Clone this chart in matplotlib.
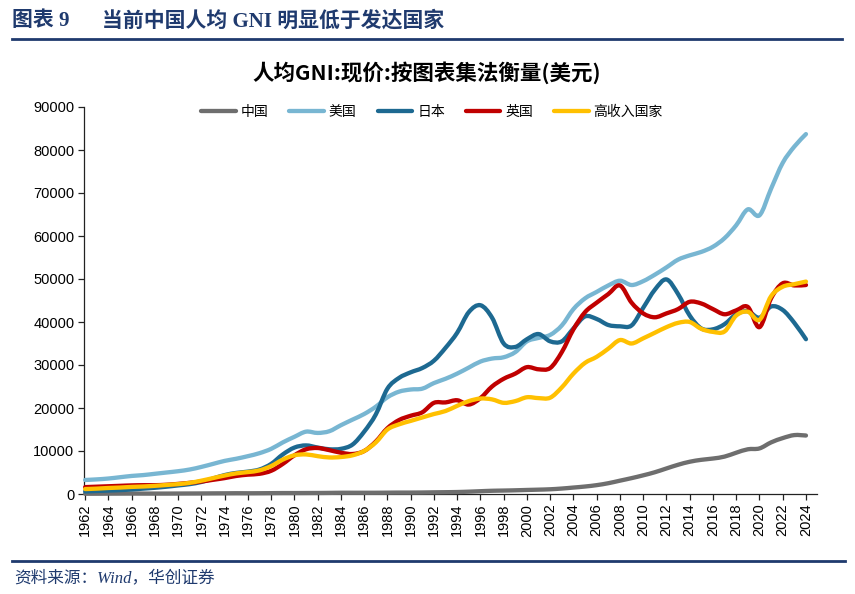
import matplotlib
matplotlib.use('Agg')
import matplotlib.pyplot as plt
import numpy as np
from matplotlib.path import Path
from matplotlib.patches import PathPatch
from matplotlib.lines import Line2D

years = list(range(1962, 2025))

china = [70, 70, 90, 100, 110, 100, 100, 100, 110, 120,
         130, 150, 160, 180, 170, 180, 200, 220, 220, 230,
         240, 260, 290, 290, 290, 290, 310, 330, 330, 350,
         390, 420, 460, 540, 650, 750, 800, 860, 940, 1010,
         1100, 1270, 1500, 1740, 2060, 2510, 3100, 3690, 4340, 5060,
         5940, 6800, 7500, 7950, 8250, 8700, 9600, 10400, 10600, 12000,
         13000, 13700, 13600]

usa = [3260, 3400, 3600, 3900, 4200, 4400, 4700, 5000, 5300, 5700,
       6300, 7000, 7700, 8200, 8800, 9500, 10500, 12000, 13300, 14500,
       14200, 14600, 16000, 17300, 18600, 20300, 22500, 23800, 24300, 24500,
       25800, 26800, 28000, 29400, 30800, 31500, 31800, 33000, 35500, 36300,
       37000, 39200, 43000, 45500, 47000, 48500, 49600, 48600, 49500, 51000,
       52700, 54500, 55500, 56300, 57500, 59500, 62500, 66200, 64800, 71000,
       77000, 80800, 83700]

japan = [600, 700, 800, 900, 1050, 1250, 1450, 1700, 2000, 2300,
         2800, 3600, 4400, 4900, 5200, 5700, 7000, 9200, 10800, 11300,
         10800, 10400, 10500, 11500, 14500, 18500, 24500, 27000, 28300, 29300,
         31000, 34000, 37500, 42300, 43900, 41000, 35000, 34200, 36000, 37200,
         35500, 35500, 38500, 41300, 40700, 39300, 39000, 39200, 43300, 47500,
         49900, 46500, 41500, 38500, 38300, 39500, 41800, 42500, 41000, 43600,
         42800, 39800, 36000]

uk = [1600, 1700, 1800, 1900, 2000, 2050, 2050, 2150, 2350, 2600,
      2900, 3300, 3700, 4200, 4500, 4700, 5400, 7000, 9000, 10400,
      10700, 10200, 9600, 9300, 10000, 12200, 15300, 17200, 18200, 19000,
      21200, 21300, 21800, 20800, 22300, 25000, 26800, 28000, 29500, 29000,
      29300, 33000, 38300, 42300, 44500, 46500, 48500, 44500, 42000, 41100,
      42000, 43000, 44700, 44300, 43000, 41800, 42700, 43500, 38800, 45500,
      49000, 48500, 48600]

high_income = [1150, 1250, 1400, 1500, 1650, 1750, 1900, 2100, 2300, 2600,
               3100, 3700, 4300, 4800, 5100, 5500, 6500, 8000, 9000, 9200,
               8800, 8500, 8600, 9000, 10000, 12000, 15000, 16200, 17000, 17800,
               18600, 19300, 20500, 21600, 22200, 22000, 21200, 21600, 22500, 22300,
               22400, 24800, 28000, 30500, 31900, 33800, 35800, 35000, 36200, 37500,
               38800, 39800, 40000, 38400, 37700, 37800, 41500, 42400, 40500, 46000,
               48200, 48800, 49400]

series_names = ['中国', '美国', '日本', '英国', '高收入国家']
series_values = [china, usa, japan, uk, high_income]
series_colors = ['#6E6E6E', '#78B6D2', '#1D6991', '#C00000', '#FFC000']

y_ticks = list(range(0, 90001, 10000))
x_ticks = list(range(1962, 2025, 2))

header_left = '图表 9'
header_right = '当前中国人均 GNI 明显低于发达国家'
title = '人均GNI:现价:按图表集法衡量(美元)'
source = '资料来源：Wind，华创证券'

CJK = ['Noto Sans CJK SC', 'DejaVu Sans']
SERIF_CJK = ['Liberation Serif', 'Noto Sans CJK SC', 'DejaVu Sans']
plt.rcParams['font.family'] = CJK


def smooth_path(x, y):
    x = np.asarray(x, float)
    y = np.asarray(y, float)
    n = len(x)
    verts = [(x[0], y[0])]
    codes = [Path.MOVETO]
    for i in range(n - 1):
        xa, ya = (x[i - 1], y[i - 1]) if i > 0 else (x[i], y[i])
        xd, yd = (x[i + 2], y[i + 2]) if i + 2 < n else (x[i + 1], y[i + 1])
        c1 = (x[i] + (x[i + 1] - xa) / 6.0, y[i] + (y[i + 1] - ya) / 6.0)
        c2 = (x[i + 1] - (xd - x[i]) / 6.0, y[i + 1] - (yd - y[i]) / 6.0)
        verts += [c1, c2, (x[i + 1], y[i + 1])]
        codes += [Path.CURVE4] * 3
    return Path(verts, codes)


fig = plt.figure(figsize=(8.55, 5.94), dpi=100)
navy = '#1F3A6E'

# header
fig.text(12 / 855, 1 - 21 / 594, header_left, fontsize=15, fontweight='bold',
         color=navy, va='center', ha='left', family=SERIF_CJK)
fig.text(102 / 855, 1 - 21 / 594, header_right, fontsize=15, fontweight='bold',
         color=navy, va='center', ha='left', family=SERIF_CJK)
fig.add_artist(Line2D([12 / 855, 842 / 855], [1 - 38.5 / 594, 1 - 38.5 / 594],
                      color=navy, lw=2, transform=fig.transFigure))

# title
fig.text(427 / 855, 1 - 73 / 594, title, fontsize=15.5, fontweight='bold',
         color='black', va='center', ha='center')

ax = fig.add_axes([84 / 855, 1 - 494 / 594, 733 / 855, 387 / 594])
ax.set_xlim(1961.9, 2024.95)
ax.set_ylim(0, 90000)

handles = []
for name, vals, col in zip(series_names, series_values, series_colors):
    p = PathPatch(smooth_path(years, vals), fill=False, edgecolor=col, lw=3.1,
                  capstyle='round', joinstyle='round', transform=ax.transData,
                  clip_on=False, zorder=3)
    ax.add_patch(p)
    handles.append(Line2D([0], [0], color=col, lw=3.1, solid_capstyle='round'))

for s in ['top', 'right']:
    ax.spines[s].set_visible(False)
for s in ['left', 'bottom']:
    ax.spines[s].set_color('#222222')
    ax.spines[s].set_linewidth(0.9)

ax.set_yticks(y_ticks)
ax.set_yticklabels([str(v) for v in y_ticks], family=['Liberation Sans'], fontsize=10.5)
ax.set_xticks(x_ticks)
ax.set_xticklabels([str(v) for v in x_ticks], family=['Liberation Sans'], fontsize=10.5,
                   rotation=90)
ax.tick_params(axis='both', direction='out', length=4, width=0.9, color='#222222', pad=3)

fig.legend(handles, series_names, loc='center', bbox_to_anchor=(432 / 855, 1 - 112 / 594),
           ncol=5, frameon=False, fontsize=10, handlelength=2.5, handletextpad=0.35,
           columnspacing=1.5)

# footer
fig.add_artist(Line2D([12 / 855, 845 / 855], [1 - 561 / 594, 1 - 561 / 594],
                      color=navy, lw=2, transform=fig.transFigure))
fig.text(14 / 855, 1 - 578 / 594, source, fontsize=12, style='italic',
         color=navy, va='center', ha='left', family=SERIF_CJK)

fig.savefig('out.png', dpi=100)
